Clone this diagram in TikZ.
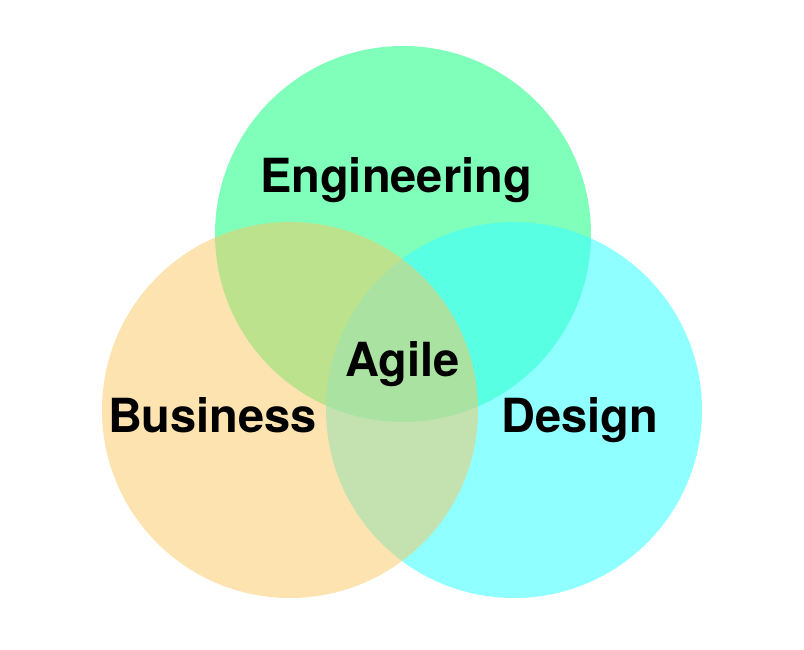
\documentclass[tikz,border=0pt]{standalone}
\usepackage{fontspec}
\setmainfont{TeX Gyre Heros}
\usepackage{tikz}
\usepackage{xcolor}
\definecolor{enggreen}{RGB}{128,255,187}
\definecolor{designcyan}{RGB}{62,255,255}
\definecolor{busorange}{RGB}{251,199,97}

\begin{document}
\begin{tikzpicture}[x=1pt, y=-1pt,
		setcircle/.style={
			circle,
			draw=none,
			inner sep=0pt,
			minimum size=376pt},
		setlabel/.style={
			anchor=base,
			inner sep=0pt,
			font=\bfseries\fontsize{47}{50}\selectfont}]
		\useasboundingbox (0,0) rectangle (804,650);
		% circles, bottom to top
		\node[setcircle, fill=enggreen] (eng) at (403,234) {};
		\node[setcircle, fill=designcyan, fill opacity=0.58] (des) at (514,410) {};
		\node[setcircle, fill=busorange, fill opacity=0.5] (bus) at (290,410) {};
		% labels
		\node[setlabel] (engtext) at (396,193) {Engineering};
		\node[setlabel] (bustext) at (212.5,432) {Business};
		\node[setlabel] (destext) at (580,432) {Design};
		\node[setlabel] (agile) at (402.5,376) {Agile};
\end{tikzpicture}
\end{document}
